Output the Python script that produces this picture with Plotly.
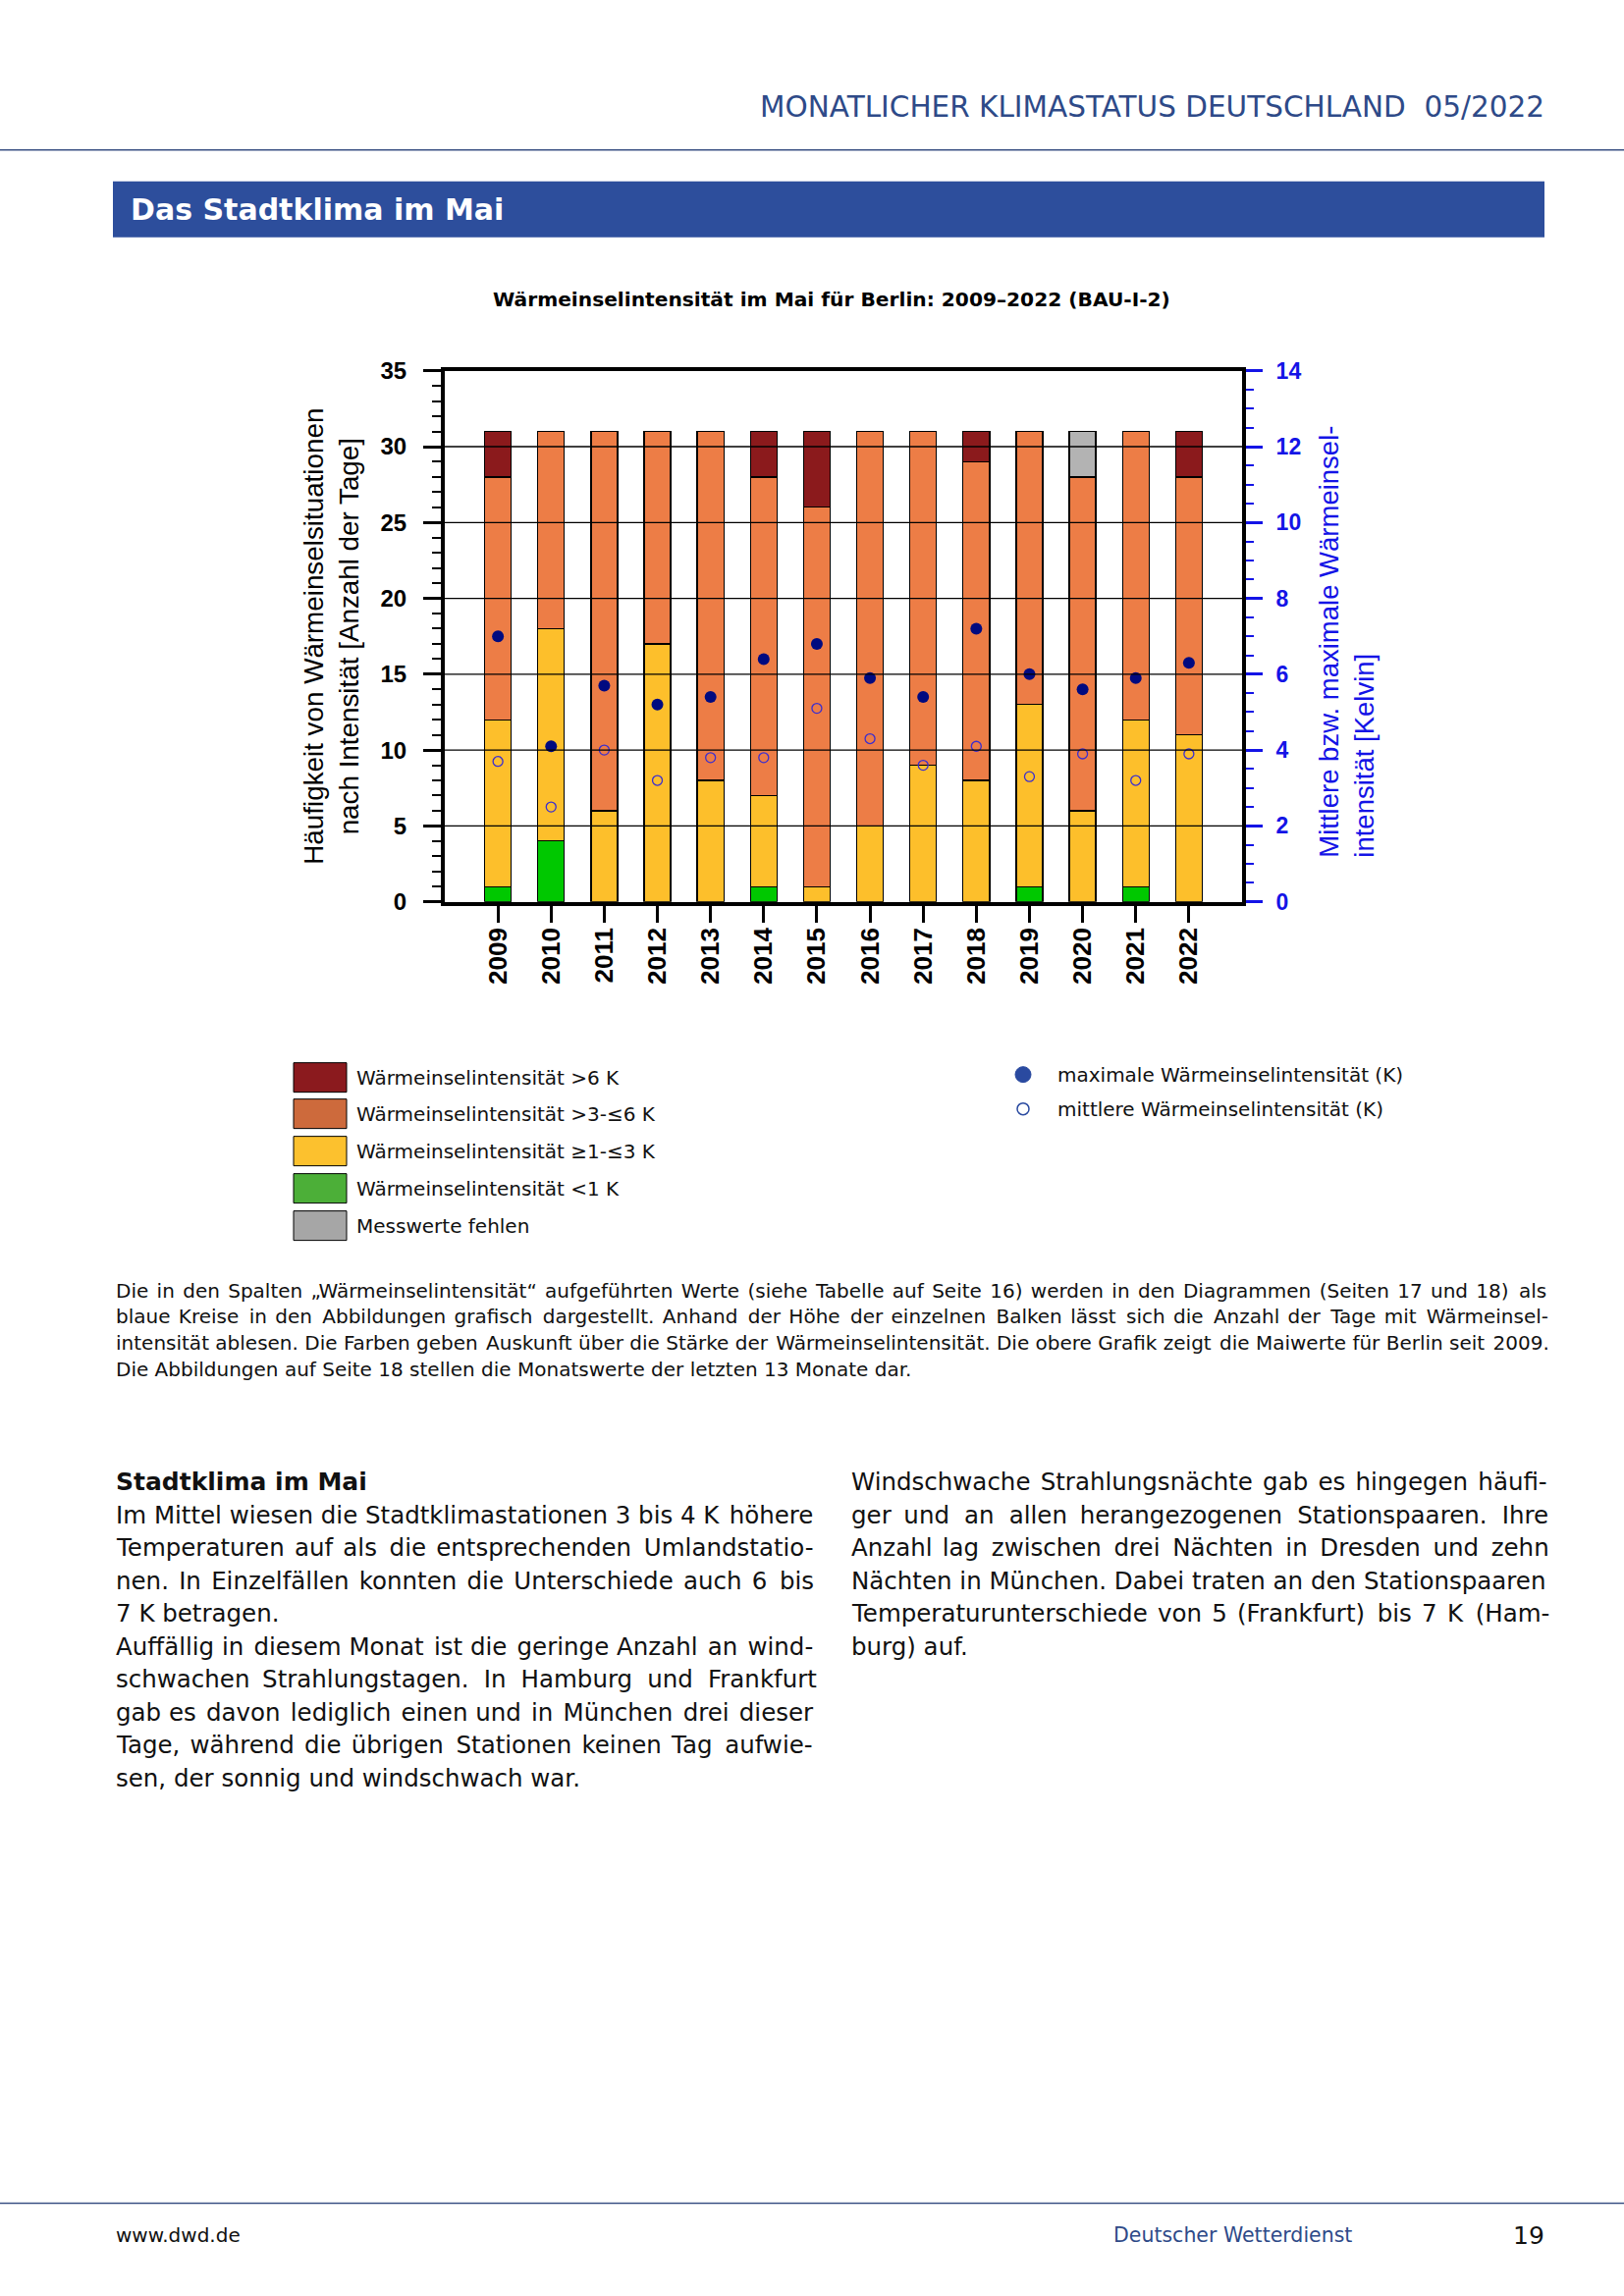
import plotly.graph_objects as go

W, H = 1654, 2339
# small vertical correction measured from the rendered page
VA, VB = 0.9886, 12.2

def px(x):
    return x / W

def py(y):
    return 1 - ((y - VB) / VA) / H

# ---------------- data ----------------
years = ["2009", "2010", "2011", "2012", "2013", "2014", "2015",
         "2016", "2017", "2018", "2019", "2020", "2021", "2022"]
days_lt1 = [1, 4, 0, 0, 0, 1, 0, 0, 0, 0, 1, 0, 1, 0]
days_1_3 = [11, 14, 6, 17, 8, 6, 1, 5, 9, 8, 12, 6, 11, 11]
days_3_6 = [16, 13, 25, 14, 23, 21, 25, 26, 22, 21, 18, 22, 19, 17]
days_gt6 = [3, 0, 0, 0, 0, 3, 5, 0, 0, 2, 0, 0, 0, 3]
days_missing = [0, 0, 0, 0, 0, 0, 0, 0, 0, 0, 0, 3, 0, 0]
max_intensity = [7.0, 4.1, 5.7, 5.2, 5.4, 6.4, 6.8, 5.9, 5.4, 7.2, 6.0, 5.6, 5.9, 6.3]
mean_intensity = [3.7, 2.5, 4.0, 3.2, 3.8, 3.8, 5.1, 4.3, 3.6, 4.1, 3.3, 3.9, 3.2, 3.9]

series_names = ["Wärmeinselintensität &lt;1 K",
                "Wärmeinselintensität ≥1-≤3 K",
                "Wärmeinselintensität &gt;3-≤6 K",
                "Wärmeinselintensität &gt;6 K",
                "Messwerte fehlen"]
bar_colors = ["#00c800", "#fdbf2b", "#ed7d46", "#8b1a1c", "#b3b3b3"]
legend_colors = ["#4caf38", "#fcc12e", "#cd6a3c", "#8b1a1e", "#a6a6a6"]

# ---------------- figure ----------------
fig = go.Figure()

for vals, name, col in zip([days_lt1, days_1_3, days_3_6, days_gt6, days_missing],
                           series_names, bar_colors):
    fig.add_trace(go.Bar(
        x=years, y=[v if v else None for v in vals], name=name,
        marker=dict(color=col, line=dict(color="black", width=1.3)),
        showlegend=False))

fig.add_trace(go.Scatter(
    x=years, y=max_intensity, yaxis="y2", mode="markers",
    marker=dict(symbol="circle", size=12, color="#000a80"),
    showlegend=False))
fig.add_trace(go.Scatter(
    x=years, y=mean_intensity, yaxis="y2", mode="markers",
    marker=dict(symbol="circle-open", size=10, color="#3a2ed0",
                line=dict(width=1.3)),
    showlegend=False))

BLUE = "#1414e6"
NAVY = "#2e4a88"
BODY = "DejaVu Sans"
CHART = "Liberation Sans"

fig.update_layout(
    width=W, height=H,
    margin=dict(l=0, r=0, t=0, b=0),
    paper_bgcolor="white", plot_bgcolor="white",
    barmode="stack", bargap=0.5,
    showlegend=False,
    xaxis=dict(
        domain=[px(453), px(1265)],
        type="category", range=[-1, 14],
        showline=True, linewidth=4, linecolor="black", mirror=True,
        ticks="outside", ticklen=17, tickwidth=3, tickcolor="black",
        tickangle=-90,
        tickfont=dict(family=CHART, size=26, color="black", weight="bold"),
        ticklabelstandoff=-5,
        showgrid=False, zeroline=False,
    ),
    yaxis=dict(
        domain=[py(917), py(376)],
        range=[0, 35], tick0=0, dtick=5,
        showline=True, linewidth=4, linecolor="black",
        ticks="outside", ticklen=18, tickwidth=3, tickcolor="black",
        minor=dict(dtick=1, ticks="outside", ticklen=9, tickwidth=1.5,
                   tickcolor="black", showgrid=False),
        tickfont=dict(family=CHART, size=24, color="black", weight="bold"),
        ticklabelstandoff=12,
        showgrid=False, zeroline=False,
    ),
    yaxis2=dict(
        overlaying="y", side="right", anchor="x",
        range=[0, 14], tick0=0, dtick=2,
        showline=True, linewidth=4, linecolor="black",
        ticks="outside", ticklen=17, tickwidth=3, tickcolor=BLUE,
        minor=dict(dtick=0.5, ticks="outside", ticklen=8, tickwidth=1.5,
                   tickcolor=BLUE, showgrid=False),
        tickfont=dict(family=CHART, size=23, color=BLUE, weight="bold"),
        ticklabelstandoff=9,
        showgrid=False, zeroline=False,
    ),
)

shapes = []
# horizontal grid lines drawn above the bars
for v in range(5, 35, 5):
    shapes.append(dict(type="line", xref="x domain", yref="y", x0=0, x1=1,
                       y0=v, y1=v, line=dict(color="black", width=1.3),
                       layer="above"))
# header / footer rules and title bar
shapes.append(dict(type="line", xref="paper", yref="paper", x0=0, x1=1,
                   y0=py(151), y1=py(151), line=dict(color="#3b5184", width=1.5)))
shapes.append(dict(type="line", xref="paper", yref="paper", x0=0, x1=1,
                   y0=py(2243), y1=py(2243), line=dict(color="#3b5184", width=1.5)))
shapes.append(dict(type="rect", xref="paper", yref="paper",
                   x0=px(115), x1=px(1573), y0=py(240), y1=py(183),
                   fillcolor="#2d4e9c", line=dict(width=0)))

annotations = []

def txt(text, x, y, size, color="#111111", family=BODY, xanchor="left",
        bold=False, **kw):
    annotations.append(dict(
        text=text, x=px(x), y=py(y), xref="paper", yref="paper",
        xanchor=xanchor, yanchor=kw.pop("yanchor", "middle"), showarrow=False,
        font=dict(family=family, size=size, color=color,
                  weight="bold" if bold else "normal"), **kw))

HAIR = "\u200a"

def justify(line, n_hair):
    """Widen the word gaps with hair spaces (block-justified look)."""
    words = line.split(" ")
    gaps = len(words) - 1
    if gaps <= 0 or n_hair <= 0:
        return line
    out = words[0]
    for i, w in enumerate(words[1:]):
        k = n_hair * (i + 1) // gaps - n_hair * i // gaps
        out += " " + HAIR * k + w
    return out

# header
txt("MONATLICHER KLIMASTATUS DEUTSCHLAND  05/2022", 1575, 107, 29.5,
    color=NAVY, xanchor="right")
txt("Das Stadtklima im Mai", 131, 212, 30, color="white", bold=True)

# chart title
txt("Wärmeinselintensität im Mai für Berlin: 2009–2022 (BAU-I-2)", 847, 303, 20.2,
    color="black", xanchor="center", bold=True)

# axis titles
annotations.append(dict(
    text="Häufigkeit von Wärmeinselsituationen<br>nach Intensität [Anzahl der Tage]",
    x=px(338), y=py(647), xref="paper", yref="paper", xanchor="center",
    yanchor="middle", textangle=-90, showarrow=False, align="center",
    font=dict(family=CHART, size=27.8, color="black")))
annotations.append(dict(
    text="Mittlere bzw. maximale Wärmeinsel-<br>intensität [Kelvin]",
    x=px(1372), y=py(874), xref="paper", yref="paper", xanchor="center",
    yanchor="bottom", textangle=-90, showarrow=False, align="left",
    font=dict(family=CHART, size=27.5, color=BLUE)))

# legend (bars)
legend_rows = [1096, 1133, 1171, 1209, 1247]
legend_order = [3, 2, 1, 0, 4]
for row_y, idx in zip(legend_rows, legend_order):
    shapes.append(dict(type="rect", xref="paper", yref="paper",
                       x0=px(299), x1=px(353), y0=py(row_y + 15), y1=py(row_y - 15),
                       fillcolor=legend_colors[idx],
                       line=dict(color="black", width=1)))
    txt(series_names[idx], 361, row_y, 20)

# legend (markers)
shapes.append(dict(type="circle", xref="paper", yref="paper",
                   xsizemode="pixel", ysizemode="pixel",
                   xanchor=px(1042), yanchor=py(1093),
                   x0=-8, x1=8, y0=-8, y1=8,
                   fillcolor="#2a4aa0", line=dict(color="#2a4aa0", width=1)))
shapes.append(dict(type="circle", xref="paper", yref="paper",
                   xsizemode="pixel", ysizemode="pixel",
                   xanchor=px(1042), yanchor=py(1128),
                   x0=-6, x1=6, y0=-6, y1=6,
                   fillcolor="white", line=dict(color="#2a4aa0", width=1.5)))
txt("maximale Wärmeinselintensität (K)", 1075, 1093, 20)
txt("mittlere Wärmeinselintensität (K)", 1075, 1128, 20)

# caption
caption = [
    "Die in den Spalten „Wärmeinselintensität“ aufgeführten Werte (siehe Tabelle auf Seite 16) werden in den Diagrammen (Seiten 17 und 18) als",
    "blaue Kreise in den Abbildungen grafisch dargestellt. Anhand der Höhe der einzelnen Balken lässt sich die Anzahl der Tage mit Wärmeinsel-",
    "intensität ablesen. Die Farben geben Auskunft über die Stärke der Wärmeinselintensität. Die obere Grafik zeigt die Maiwerte für Berlin seit 2009.",
    "Die Abbildungen auf Seite 18 stellen die Monatswerte der letzten 13 Monate dar.",
]
caption_fill = [21, 30, 4, 0]
for i, (line, n) in enumerate(zip(caption, caption_fill)):
    txt(justify(line, n), 116, 1313 + i * 26.7, 20)

# body columns
left_col = [
    "Im Mittel wiesen die Stadtklimastationen 3 bis 4 K höhere",
    "Temperaturen auf als die entsprechenden Umlandstatio-",
    "nen. In Einzelfällen konnten die Unterschiede auch 6 bis",
    "7 K betragen.",
    "Auffällig in diesem Monat ist die geringe Anzahl an wind-",
    "schwachen Strahlungstagen. In Hamburg und Frankfurt",
    "gab es davon lediglich einen und in München drei dieser",
    "Tage, während die übrigen Stationen keinen Tag aufwie-",
    "sen, der sonnig und windschwach war.",
]
left_fill = [1, 7, 9, 0, 5, 14, 7, 9, 0]
right_col = [
    "Windschwache Strahlungsnächte gab es hingegen häufi-",
    "ger und an allen herangezogenen Stationspaaren. Ihre",
    "Anzahl lag zwischen drei Nächten in Dresden und zehn",
    "Nächten in München. Dabei traten an den Stationspaaren",
    "Temperaturunterschiede von 5 (Frankfurt) bis 7 K (Ham-",
    "burg) auf.",
]
right_fill = [5, 16, 15, 0, 9, 0]
LINE = 33.5
txt("Stadtklima im Mai", 116, 1508, 25, bold=True)
for i, (line, n) in enumerate(zip(left_col, left_fill)):
    txt(justify(line, n), 116, 1508 + (i + 1) * LINE, 24.5)
for i, (line, n) in enumerate(zip(right_col, right_fill)):
    txt(justify(line, n), 865, 1508 + i * LINE, 24.5)

# footer
txt("www.dwd.de", 116, 2276, 20)
txt("Deutscher Wetterdienst", 1132, 2276, 20.5, color=NAVY)
txt("19", 1575, 2276, 25, xanchor="right")

fig.update_layout(shapes=shapes, annotations=annotations)

post = ("var d=document.getElementById('{plot_id}');"
        "document.documentElement.style.margin='0';"
        "document.body.style.margin='0';document.body.style.padding='0';"
        "document.documentElement.style.overflow='hidden';"
        "document.body.style.overflow='hidden';"
        "d.style.position='absolute';d.style.left='0px';d.style.top='0px';")

fig.write_html("out.html", config={"displayModeBar": False}, post_script=post)
